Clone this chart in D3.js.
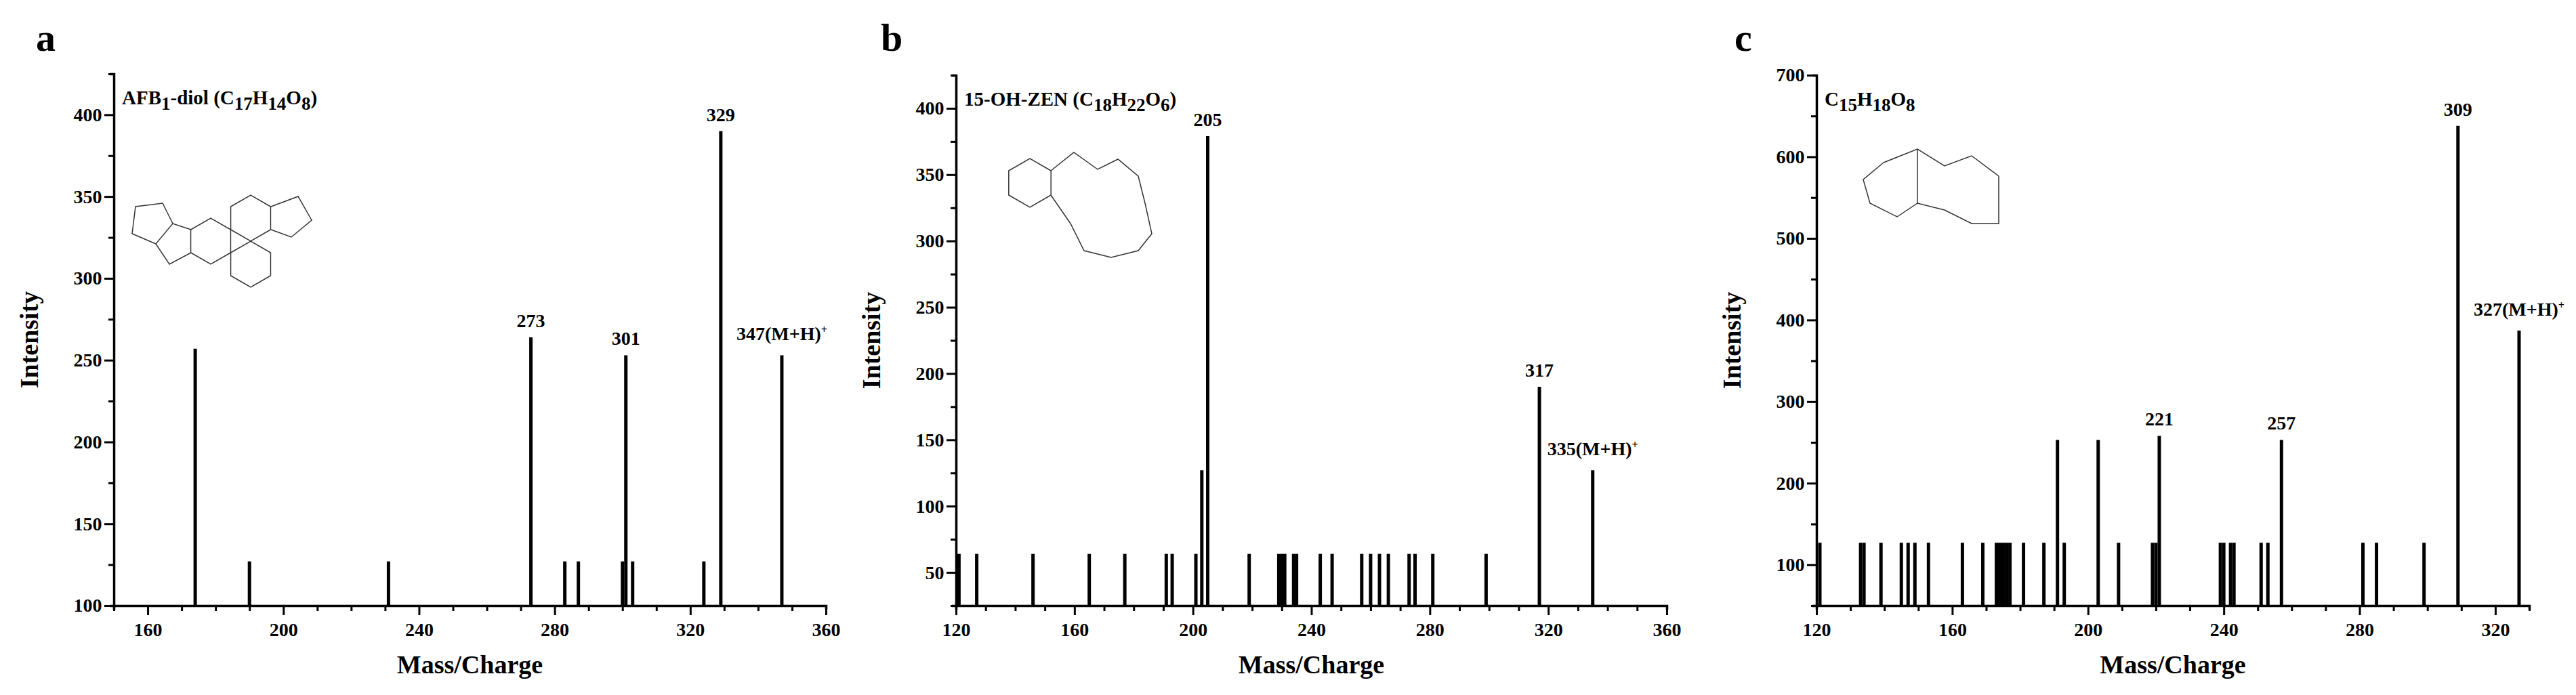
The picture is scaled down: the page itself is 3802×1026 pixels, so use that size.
<!DOCTYPE html>
<html><head><meta charset="utf-8">
<script src="https://cdn.jsdelivr.net/npm/d3@7"></script>
<style>body{margin:0;background:#fff}text{font-family:"Liberation Serif","Times New Roman",serif;font-weight:bold;fill:#000}</style>
</head><body><svg id="c" width="3802" height="1026"></svg>
<script>
const mzA=[174,190,231,273,283,287,300,301,303,324,329,347];
const inA=[257,127,127,264,127,127,127,253,127,127,390,253];
const mzB=[121,127,146,165,177,191,193,201,203,205,219,229,230,231,234,235,243,247,257,260,263,266,273,275,281,299,317,335];
const inB=[64,64,64,64,64,64,64,64,127,379,64,64,64,64,64,64,64,64,64,64,64,64,64,64,64,64,190,127];
const mzC=[121,133,134,139,145,147,149,153,163,169,173,174,175,176,177,181,187,191,193,203,209,219,220,221,239,240,242,243,251,253,257,281,285,299,309,327];
const inC=[127,127,127,127,127,127,127,127,127,127,127,127,127,127,127,127,127,253,127,253,127,127,127,258,127,127,127,127,127,127,253,127,127,127,638,387];
const panels=[
 {letter:"a",mz:mzA,it:inA,xd:[150,360],yd:[100,425],xt:[160,200,240,280,320,360],yt:[100,150,200,250,300,350,400],
  box:[168,1219,109,894],lx:53,
  title:[["AFB",0],["1",1],["-diol (C",0],["17",1],["H",0],["14",1],["O",0],["8",1],[")",0]],
  labels:[[273,"273"],[301,"301"],[329,"329"],[347,"347(M+H)"]]},
 {letter:"b",mz:mzB,it:inB,xd:[120,360],yd:[25,425],xt:[120,160,200,240,280,320,360],yt:[50,100,150,200,250,300,350,400],
  box:[1411,2460,111,894],lx:1300,
  title:[["15-OH-ZEN (C",0],["18",1],["H",0],["22",1],["O",0],["6",1],[")",0]],
  labels:[[205,"205"],[317,"317"],[335,"335(M+H)"]]},
 {letter:"c",mz:mzC,it:inC,xd:[120,330],yd:[50,700],xt:[120,160,200,240,280,320],yt:[100,200,300,400,500,600,700],
  box:[2681,3733,111,894],lx:2560,
  title:[["C",0],["15",1],["H",0],["18",1],["O",0],["8",1]],
  labels:[[221,"221"],[257,"257"],[309,"309"],[327,"327(M+H)"]]}
];
const svg=d3.select("#c");
panels.forEach(p=>{
 const [L,R,T,B]=p.box;
 const x=d3.scaleLinear().domain(p.xd).range([L,R]);
 const y=d3.scaleLinear().domain(p.yd).range([B,T]);
 const g=svg.append("g");
 g.append("text").attr("x",p.lx).attr("y",75).attr("font-size",58).text(p.letter);
 const xm=d3.range(Math.ceil(p.xd[0]/10)*10,p.xd[1]+0.1,10);
 const ax=d3.axisBottom(x).tickValues(xm).tickFormat(d=>p.xt.includes(d)?d:"");
 const gx=g.append("g").attr("transform",`translate(0,${B})`).call(ax);
 gx.selectAll(".tick line").attr("y2",d=>p.xt.includes(d)?14:8).attr("stroke-width",3);
 const step=(p.yt[1]-p.yt[0])/2;
 const ym=d3.range(Math.ceil(p.yd[0]/step)*step,p.yd[1]+0.1,step);
 const ay=d3.axisLeft(y).tickValues(ym).tickFormat(d=>p.yt.includes(d)?d:"");
 const gy=g.append("g").attr("transform",`translate(${L},0)`).call(ay);
 gy.selectAll(".tick line").attr("x2",d=>p.yt.includes(d)?-14:-8).attr("stroke-width",3);
 [gx,gy].forEach(a=>{a.select(".domain").attr("stroke-width",3.5);a.selectAll("text").attr("font-size",28).attr("font-family","Liberation Serif").attr("font-weight","bold");});
 gx.selectAll("text").attr("dy","1.3em");gy.selectAll("text").attr("dx","-0.3em");
 g.selectAll(".bar").data(p.mz).enter().append("line").attr("x1",d=>x(d)).attr("x2",d=>x(d))
  .attr("y1",B).attr("y2",(d,i)=>y(p.it[i])).attr("stroke","#000").attr("stroke-width",5);
 g.append("text").attr("x",(L+R)/2).attr("y",B+100).attr("text-anchor","middle").attr("font-size",38).text("Mass/Charge");
 g.append("text").attr("transform",`translate(${L-112},${(T+B)/2}) rotate(-90)`).attr("text-anchor","middle").attr("font-size",38).text("Intensity");
 const t=g.append("text").attr("x",L+12).attr("y",T+45).attr("font-size",29);
 let prevSub=0;
 p.title.forEach(([s,sub])=>{t.append("tspan").attr("dy",sub===prevSub?0:(sub?8:-8)).attr("font-size",sub?27:29).text(s);prevSub=sub;});
 p.labels.forEach(([m,s])=>{
  const v=p.it[p.mz.indexOf(m)];
  const lt=g.append("text").attr("x",x(m)).attr("y",y(v)-15).attr("text-anchor","middle").attr("font-size",28).text(s);
  if(s.includes("M+H")){lt.append("tspan").attr("dy",-10).attr("font-size",16).text("+");lt.attr("y",y(v)-22);}
 });
});
// simplified structure sketches (decorative)
const st=svg.append("g").attr("stroke","#333").attr("stroke-width",1.5).attr("fill","none");
function hex(cx,cy,r){return d3.range(7).map(i=>[cx+r*Math.cos(Math.PI/6+i*Math.PI/3),cy+r*Math.sin(Math.PI/6+i*Math.PI/3)]);}
const ln=d3.line();
[[370,390,34],[370,322,34],[311,356,34]].forEach(h=>st.append("path").attr("d",ln(hex(...h))));
st.append("path").attr("d",ln([[400,305],[440,290],[460,325],[430,350],[400,339]]));
st.append("path").attr("d",ln([[282,373],[250,390],[230,360],[255,330],[282,339]]));
st.append("path").attr("d",ln([[230,360],[195,345],[200,305],[240,300],[255,330]]));
st.append("path").attr("d",ln(hex(1520,270,36)));
st.append("path").attr("d",ln([[1551,252],[1585,225],[1620,250],[1650,235],[1680,260],[1690,300],[1700,345],[1680,370],[1640,380],[1600,370],[1580,330],[1551,288]]));
st.append("path").attr("d",ln([[2780,240],[2830,220],[2870,245],[2910,230],[2950,260],[2950,330],[2910,330],[2870,310],[2830,300],[2800,320],[2760,300],[2750,265],[2780,240]]));
st.append("path").attr("d",ln([[2830,220],[2830,300]]));
</script></body></html>
